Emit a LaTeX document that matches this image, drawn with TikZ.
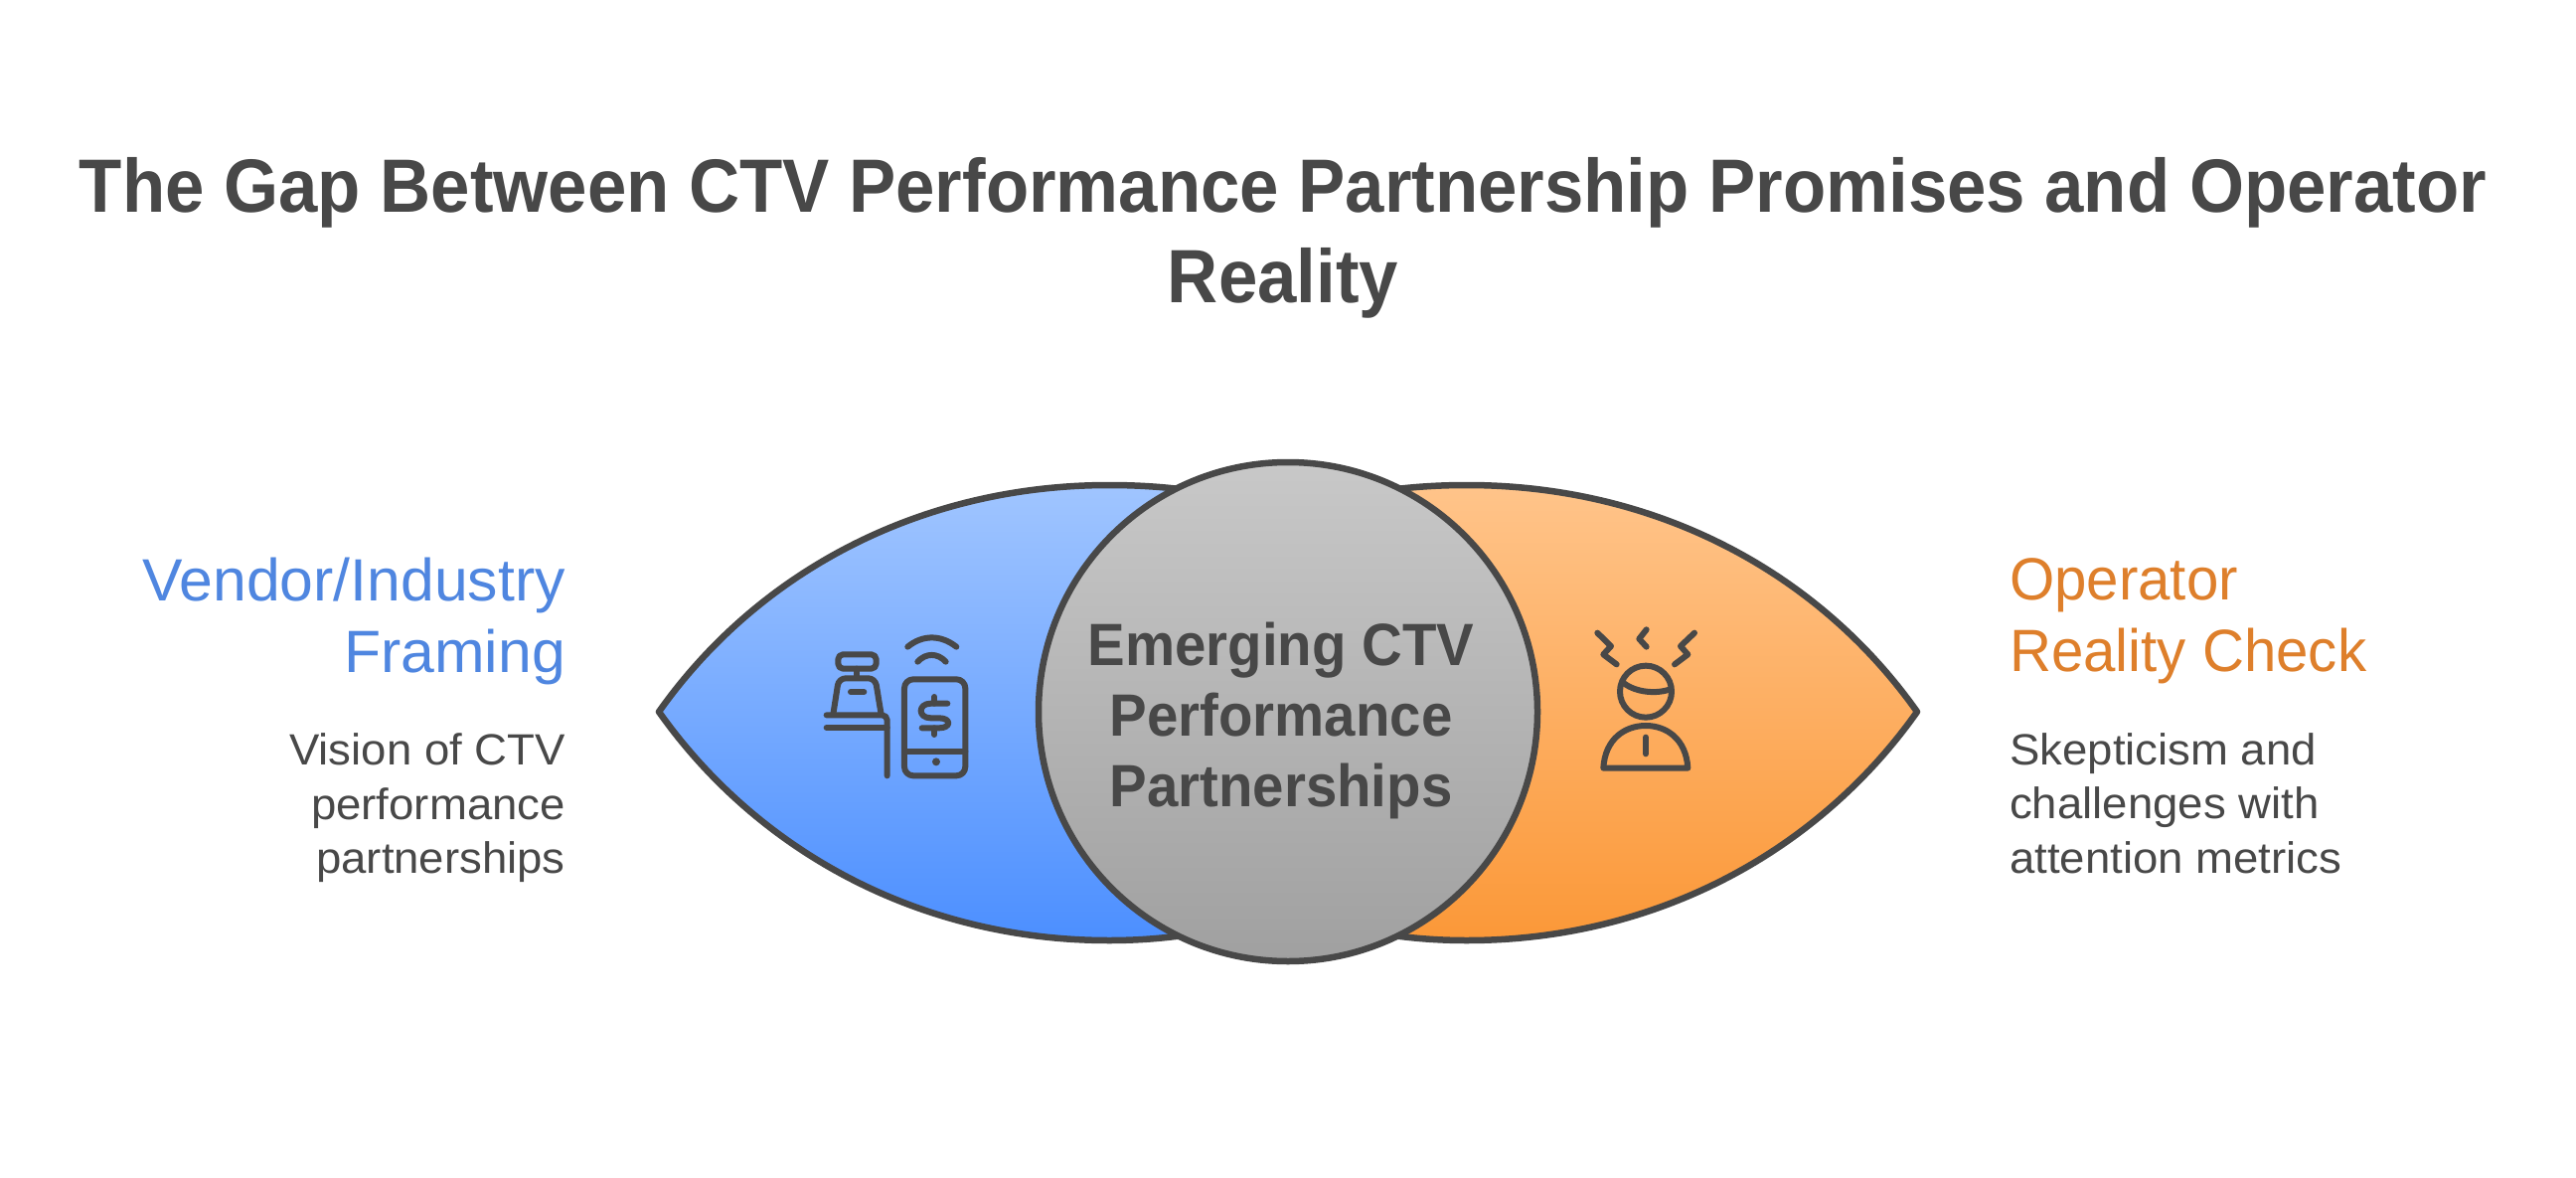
\documentclass[tikz,border=0pt]{standalone}
\usepackage{fontspec}
\setmainfont{Liberation Sans}
\newfontfamily\titlefam[FakeStretch=0.931]{Liberation Sans}
\newfontfamily\hubfam[FakeStretch=0.94]{Liberation Sans}
\newfontfamily\bodyfam[FakeStretch=1.035]{Liberation Sans}
\newfontfamily\vendfam[FakeStretch=1.012]{Liberation Sans}
\newfontfamily\operfam[FakeStretch=0.97]{Liberation Sans}
\definecolor{ink}{HTML}{484848}
\definecolor{bluetxt}{HTML}{4F86E0}
\definecolor{orangetxt}{HTML}{DE7F2B}
\tikzset{
  outline/.style={draw=ink,line width=6.5pt,line join=round},
  icon/.style={draw=ink,line width=6pt,line cap=round,line join=round},
  titletxt/.style={text=ink,font=\titlefam\fontsize{76}{91}\selectfont\bfseries,align=center,inner sep=0pt},
  headl/.style={text=bluetxt,font=\vendfam\fontsize{60}{72}\selectfont,align=right,inner sep=0pt},
  headr/.style={text=orangetxt,font=\operfam\fontsize{60}{72}\selectfont,align=left,inner sep=0pt},
  bodyl/.style={text=ink,font=\bodyfam\fontsize{44}{54.5}\selectfont,align=right,inner sep=0pt},
  bodyr/.style={text=ink,font=\bodyfam\fontsize{44}{54.5}\selectfont,align=left,inner sep=0pt},
  centertxt/.style={text=ink,font=\hubfam\fontsize{60}{71}\selectfont\bfseries,align=center,inner sep=0pt}
}
\begin{document}
\begin{tikzpicture}[x=1pt,y=-1pt]
\useasboundingbox (0,0) rectangle (2592,1185);
\fill[white] (0,0) rectangle (2592,1185);
% left lens
\path[outline,top color={rgb,255:red,160;green,197;blue,255},bottom color={rgb,255:red,76;green,143;blue,255}]
  (663,716) .. controls (765,572) and (930,488) .. (1116,488)
  .. controls (1190,488) and (1260,500) .. (1330,530)
  -- (1330,900) .. controls (1260,932) and (1190,946) .. (1116,946)
  .. controls (930,946) and (765,860) .. (663,716) -- cycle;
% right lens
\path[outline,top color={rgb,255:red,255;green,196;blue,138},bottom color={rgb,255:red,251;green,152;blue,56}]
  (1929,716) .. controls (1827,572) and (1662,488) .. (1476,488)
  .. controls (1402,488) and (1332,500) .. (1262,530)
  -- (1262,900) .. controls (1332,932) and (1402,946) .. (1476,946)
  .. controls (1662,946) and (1827,860) .. (1929,716) -- cycle;
% centre
\node[outline,circle,minimum size=502pt,inner sep=0pt,top color={rgb,255:red,200;green,200;blue,200},bottom color={rgb,255:red,160;green,160;blue,160}] (hub) at (1296,716) {};
\node[centertxt] (hubtxt) at (1289,725) {Emerging CTV\\Performance\\Partnerships};
% title
\node[titletxt] (title) at (1291,239) {The Gap Between CTV Performance Partnership Promises and Operator\\Reality};
% left text
\node[headl,anchor=east] (vh) at (569,625) {Vendor/Industry\\Framing};
\node[bodyl,anchor=east] (vb) at (569,813) {Vision of CTV\\performance\\partnerships};
% right text
\node[headr,anchor=west] (oh) at (2022,625) {Operator\\Reality Check};
\node[bodyr,anchor=west] (ob) at (2022,808) {Skepticism and\\challenges with\\attention metrics};
% left icon
\begin{scope}[shift={(780,600)},x=0.3333pt,y=-0.3333pt]
\draw[icon,rounded corners=5pt] (190,175) rectangle (305,218);
\draw[icon] (247,218) -- (247,245);
\draw[icon,rounded corners=7pt] (175,356) -- (192,247) -- (302,247) -- (320,356);
\draw[icon] (228,288) -- (268,288);
\draw[icon,rounded corners=5pt] (155,358) -- (338,358) -- (338,541);
\draw[icon] (155,396) -- (338,396);
\draw[icon,rounded corners=9pt] (390,250) rectangle (574,541);
\draw[icon] (390,467) -- (574,467);
\fill[ink] (486,499) circle (12);
\draw[icon] (520,323) -- (470,323) .. controls (430,323) and (430,367) .. (470,367) -- (495,367) .. controls (532,367) and (532,397) .. (495,397) -- (443,397);
\draw[icon] (481,303) -- (481,323) (481,397) -- (481,417);
\draw[icon] (400,152) .. controls (445,115) and (500,115) .. (547,152);
\draw[icon] (430,197) .. controls (455,170) and (490,170) .. (515,197);
\end{scope}
% right icon
\begin{scope}[shift={(1560,600)},x=0.3333pt,y=-0.3333pt]
\draw[icon] (288,287) circle (78);
\draw[icon] (222,262) .. controls (260,290) and (320,295) .. (362,280);
\draw[icon] (160,518) .. controls (165,430) and (225,390) .. (288,390) .. controls (350,390) and (410,430) .. (415,518) -- cycle;
\draw[icon] (288,425) -- (288,475);
\draw[icon] (142,110) -- (183,150) -- (160,175) -- (200,205);
\draw[icon] (290,100) -- (268,128) -- (290,152);
\draw[icon] (435,110) -- (393,150) -- (415,175) -- (375,205);
\end{scope}
\end{tikzpicture}
\end{document}
